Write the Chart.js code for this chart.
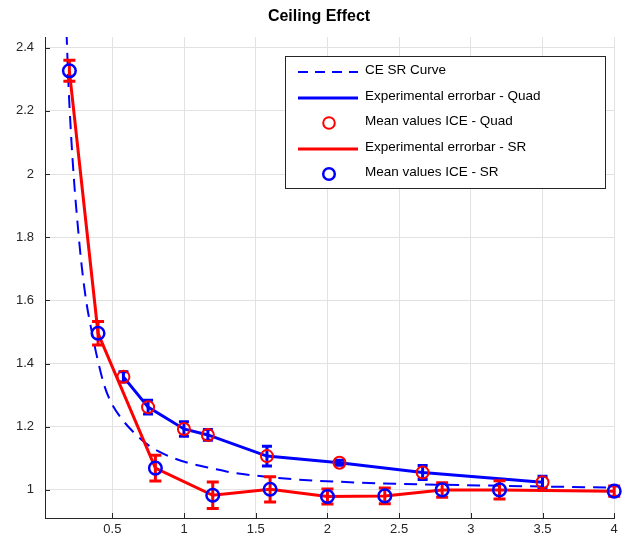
<!DOCTYPE html>
<html><head><meta charset="utf-8">
<script src="https://cdn.jsdelivr.net/npm/chart.js@4.4.1/dist/chart.umd.min.js"></script>
<style>html,body{margin:0;padding:0;background:#fff}#wrap{width:623px;height:543px}</style>
</head><body><div id="wrap"><canvas id="c" width="623" height="543"></canvas></div>
<script>
const chartTitle = 'Ceiling Effect';
const xTicks = [0.5, 1, 1.5, 2, 2.5, 3, 3.5, 4];
const yTicks = [1, 1.2, 1.4, 1.6, 1.8, 2, 2.2, 2.4];

// CE SR Curve
const curveX = [0.18, 0.195, 0.215, 0.234, 0.257, 0.282, 0.315, 0.361, 0.396, 0.444, 0.49, 0.57, 0.663, 0.755, 0.872, 1.034, 1.196, 1.358, 1.543, 1.752, 2.355, 2.958, 4.0];
const curveY = [2.45, 2.27, 2.10, 1.97, 1.845, 1.725, 1.605, 1.49, 1.415, 1.33, 1.278, 1.222, 1.176, 1.14, 1.111, 1.085, 1.068, 1.053, 1.043, 1.034, 1.021, 1.015, 1.007];

// Quad experiment
const quadX = [0.577, 0.749, 0.999, 1.166, 1.578, 2.084, 2.664, 3.5];
const quadY = [1.358, 1.262, 1.193, 1.174, 1.107, 1.086, 1.055, 1.024];
const quadErr = [0.016, 0.022, 0.023, 0.017, 0.031, 0.008, 0.022, 0.019];

// SR experiment
const srX = [0.2, 0.4, 0.8, 1.2, 1.6, 2.0, 2.4, 2.8, 3.2, 4.0];
const srY = [2.327, 1.496, 1.069, 0.983, 1.002, 0.979, 0.981, 1.0, 1.0, 0.996];
const srErr = [0.033, 0.037, 0.041, 0.042, 0.04, 0.024, 0.025, 0.023, 0.029, 0.016];

const legendLabels = ['CE SR Curve', 'Experimental errorbar - Quad', 'Mean values ICE - Quad', 'Experimental errorbar - SR', 'Mean values ICE - SR'];

const FONT = 'Liberation Sans, Arial, Helvetica, sans-serif';
const BLUE = '#0000ff', RED = '#ff0000', AX = '#262626';

const pts = (xs, ys) => xs.map((x, i) => ({x: x, y: ys[i]}));

const errPlugin = {
  id: 'errbars',
  afterDatasetDraw(chart, args) {
    const ds = chart.data.datasets[args.index];
    if (!ds.errs) return;
    const xs = chart.scales.x, ys = chart.scales.y, ctx = chart.ctx;
    const cap = ds.cap;
    ctx.save();
    ctx.strokeStyle = ds.borderColor;
    ctx.lineWidth = 3;
    ctx.lineCap = 'butt';
    ds.data.forEach((p, i) => {
      const px = xs.getPixelForValue(p.x);
      const t = ys.getPixelForValue(p.y + ds.errs[i]);
      const b = ys.getPixelForValue(p.y - ds.errs[i]);
      ctx.beginPath();
      ctx.moveTo(px, t); ctx.lineTo(px, b);
      ctx.moveTo(px - cap, t); ctx.lineTo(px + cap, t);
      ctx.moveTo(px - cap, b); ctx.lineTo(px + cap, b);
      ctx.stroke();
    });
    ctx.restore();
  }
};

const tickPlugin = {
  id: 'innerTicks',
  beforeDatasetsDraw(chart) {
    const ctx = chart.ctx, a = chart.chartArea, xs = chart.scales.x, ys = chart.scales.y;
    ctx.save();
    ctx.strokeStyle = AX; ctx.lineWidth = 1;
    ctx.beginPath();
    xTicks.forEach(v => { const p = Math.round(xs.getPixelForValue(v)) + 0.5; ctx.moveTo(p, a.bottom); ctx.lineTo(p, a.bottom - 5); });
    yTicks.forEach(v => { const p = Math.round(ys.getPixelForValue(v)) + 0.5; ctx.moveTo(a.left, p); ctx.lineTo(a.left + 5, p); });
    ctx.stroke();
    ctx.restore();
  }
};

const titlePlugin = {
  id: 'axTitle',
  afterDraw(chart) {
    const ctx = chart.ctx;
    ctx.save();
    ctx.font = 'bold 16px ' + FONT;
    ctx.fillStyle = '#000';
    ctx.textAlign = 'center';
    ctx.textBaseline = 'middle';
    ctx.fillText(chartTitle, 319, 17);
    ctx.restore();
  }
};

const legendPlugin = {
  id: 'boxLegend',
  afterDraw(chart) {
    const ctx = chart.ctx;
    const bx = 285.5, by = 56.5, bw = 320, bh = 132;
    ctx.save();
    ctx.fillStyle = '#fff';
    ctx.fillRect(bx, by, bw, bh);
    ctx.strokeStyle = AX; ctx.lineWidth = 1;
    ctx.strokeRect(bx, by, bw, bh);
    const rows = [72, 98, 123, 149, 174];
    const kinds = ['dash', 'blueLine', 'redCircle', 'redLine', 'blueCircle'];
    ctx.font = '13.5px ' + FONT;
    ctx.fillStyle = '#000';
    ctx.textBaseline = 'middle';
    ctx.textAlign = 'left';
    rows.forEach((y, i) => {
      const k = kinds[i];
      ctx.beginPath();
      if (k === 'dash') {
        ctx.setLineDash([10, 7]); ctx.strokeStyle = BLUE; ctx.lineWidth = 2;
        ctx.moveTo(298, y); ctx.lineTo(358, y); ctx.stroke(); ctx.setLineDash([]);
      } else if (k === 'blueLine' || k === 'redLine') {
        ctx.strokeStyle = k === 'blueLine' ? BLUE : RED; ctx.lineWidth = 3;
        ctx.moveTo(298, y); ctx.lineTo(358, y); ctx.stroke();
      } else {
        ctx.strokeStyle = k === 'redCircle' ? RED : BLUE; ctx.lineWidth = k === 'redCircle' ? 2 : 2.5;
        ctx.arc(329, y, 5.8, 0, Math.PI * 2); ctx.stroke();
      }
      ctx.fillText(legendLabels[i], 365, y - 2);
    });
    ctx.restore();
  }
};

new Chart(document.getElementById('c'), {
  type: 'line',
  data: {
    datasets: [
      { label: legendLabels[0], data: pts(curveX, curveY), borderColor: BLUE, borderWidth: 2, borderDash: [13, 8], pointRadius: 0, fill: false, cubicInterpolationMode: 'monotone', order: 5 },
      { label: legendLabels[1], data: pts(quadX, quadY), borderColor: BLUE, borderWidth: 3, pointRadius: 0, fill: false, tension: 0, errs: quadErr, cap: 5, order: 4 },
      { label: legendLabels[2], data: pts(quadX, quadY), showLine: false, borderColor: RED, pointBorderColor: RED, pointBackgroundColor: 'rgba(0,0,0,0)', pointRadius: 6, pointBorderWidth: 2, clip: false, order: 3 },
      { label: legendLabels[3], data: pts(srX, srY), borderColor: RED, borderWidth: 3, pointRadius: 0, fill: false, tension: 0, errs: srErr, cap: 6, order: 2 },
      { label: legendLabels[4], data: pts(srX, srY), showLine: false, borderColor: BLUE, pointBorderColor: BLUE, pointBackgroundColor: 'rgba(0,0,0,0)', pointRadius: 6.3, pointBorderWidth: 2.5, clip: false, order: 1 }
    ]
  },
  options: {
    responsive: false,
    animation: false,
    devicePixelRatio: 1,
    layout: { padding: { left: 0, right: 6, top: 37, bottom: 0 } },
    plugins: {
      legend: { display: false },
      tooltip: { enabled: false },
      title: { display: false }
    },
    scales: {
      x: {
        type: 'linear', min: 0.03, max: 4,
        afterBuildTicks: s => { s.ticks = xTicks.map(v => ({ value: v })); },
        afterFit: s => { s.height = 25; },
        grid: { color: '#e2e2e2', drawTicks: false },
        border: { display: true, color: AX, width: 1 },
        ticks: { color: AX, font: { family: FONT, size: 13 }, padding: 4, maxRotation: 0, autoSkip: false, callback: v => String(v) }
      },
      y: {
        type: 'linear', min: 0.911, max: 2.434,
        afterBuildTicks: s => { s.ticks = yTicks.map(v => ({ value: v })); },
        afterFit: s => { s.width = 45; },
        grid: { color: '#e2e2e2', drawTicks: false },
        border: { display: true, color: AX, width: 1 },
        ticks: { color: AX, font: { family: FONT, size: 13 }, padding: 11, autoSkip: false, callback: v => String(+(+v).toFixed(1)) }
      }
    }
  },
  plugins: [errPlugin, tickPlugin, titlePlugin, legendPlugin]
});
</script>
</body></html>
